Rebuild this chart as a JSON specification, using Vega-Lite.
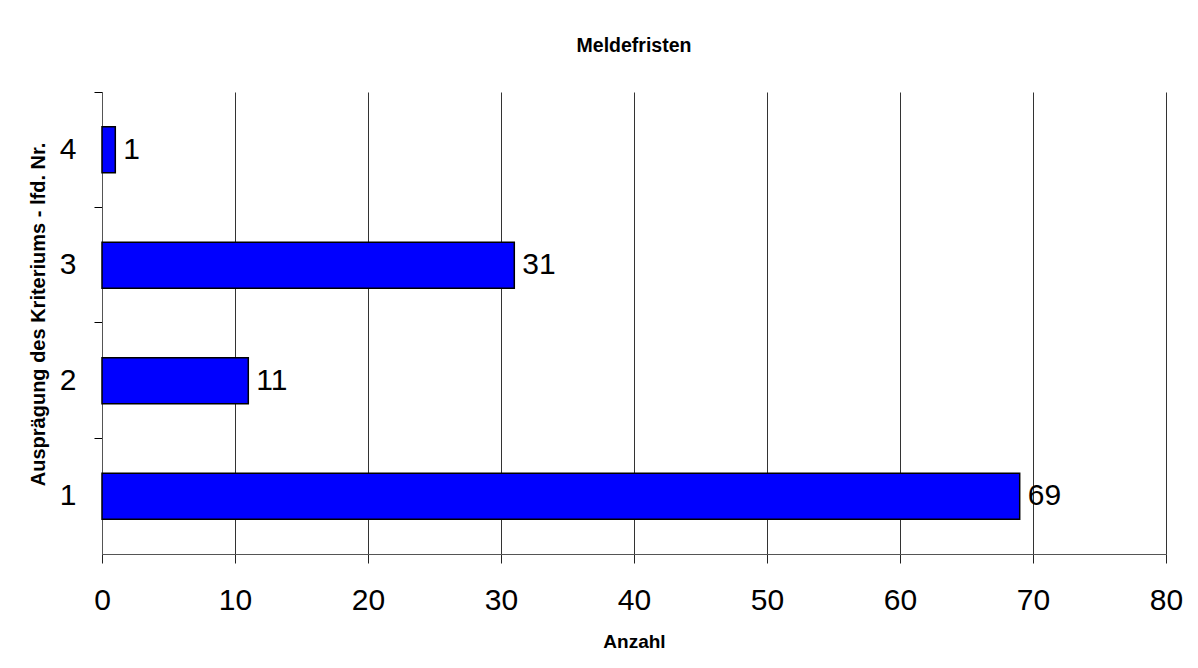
{
  "$schema": "https://vega.github.io/schema/vega-lite/v6.json",
  "autosize": "none",
  "width": 1064,
  "height": 462,
  "padding": {"left": 102, "top": 92, "right": 32, "bottom": 114},
  "background": "white",
  "title": {"text": "Meldefristen", "fontSize": 19.5, "font": "Liberation Sans", "fontWeight": "bold", "color": "black", "offset": 35, "anchor": "middle"},
  "data": {"values": [
    {"nr": "1", "anzahl": 69},
    {"nr": "2", "anzahl": 11},
    {"nr": "3", "anzahl": 31},
    {"nr": "4", "anzahl": 1}
  ]},
  "encoding": {
    "y": {"field": "nr", "type": "ordinal", "sort": "descending",
      "scale": {"paddingInner": 0.6, "paddingOuter": 0.3},
      "axis": {"title": "Ausprägung des Kriteriums - lfd. Nr.", "titleFont": "Liberation Sans", "titleFontSize": 20, "titleFontWeight": "bold", "titleColor": "black",
        "titleX": -64, "titleY": 222, "titleAngle": -90, "titleAlign": "center", "titleBaseline": "middle",
        "labelFont": "Liberation Sans", "labelFontSize": 30, "labelColor": "black", "labelAngle": 0, "labelPadding": 18,
        "tickSize": 8, "tickColor": "black", "bandPosition": -0.75, "domainColor": "#555", "grid": false}},
    "x": {"field": "anzahl", "type": "quantitative", "scale": {"domain": [0, 80], "nice": false},
      "axis": {"title": "Anzahl", "titleFont": "Liberation Sans", "titleFontSize": 19, "titleFontWeight": "bold", "titleColor": "black", "titlePadding": 17,
        "values": [0,10,20,30,40,50,60,70,80], "labelFont": "Liberation Sans", "labelFontSize": 30, "labelColor": "black", "labelPadding": 22,
        "tickSize": 9, "tickColor": "#222", "domainColor": "#555", "grid": true, "gridColor": "#333", "gridWidth": 1, "labelFlush": false}}
  },
  "layer": [
    {"mark": {"type": "bar", "fill": "#0000FF", "stroke": "black", "strokeWidth": 1.5}},
    {"mark": {"type": "text", "align": "left", "baseline": "middle", "dx": 8, "font": "Liberation Sans", "fontSize": 30, "color": "black"},
      "encoding": {"text": {"field": "anzahl", "type": "quantitative"}}}
  ],
  "config": {"view": {"stroke": null}}
}
